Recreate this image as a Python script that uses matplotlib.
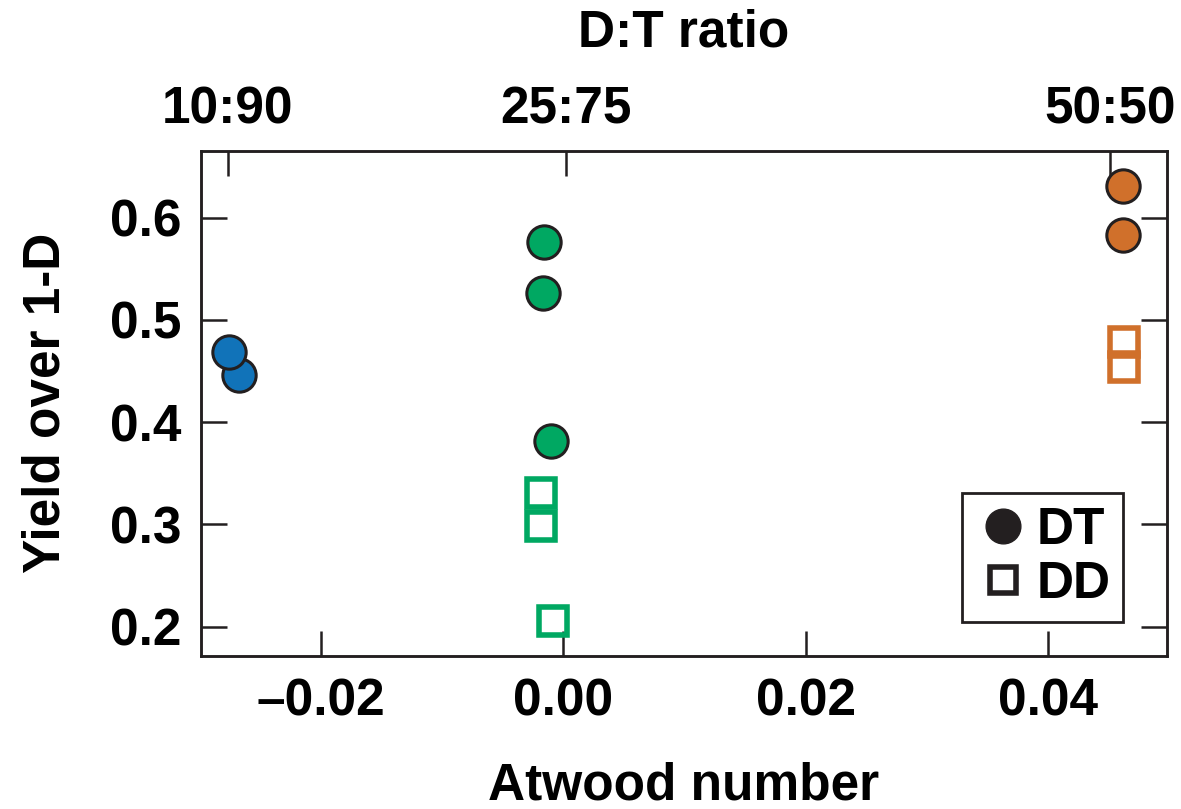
import matplotlib
matplotlib.use("Agg")
import matplotlib.pyplot as plt
from matplotlib.lines import Line2D

plt.rcParams['font.family'] = ['Liberation Sans', 'DejaVu Sans']
plt.rcParams['font.weight'] = 'bold'

# ---- data ----
groups = ["10:90", "25:75", "50:50"]
colors = ["#1173B9", "#00A862", "#D0702B"]
dt_x = [[-0.02672, -0.0276], [-0.00099, -0.0017, -0.00154], [0.04619, 0.04619]]
dt_y = [[0.446, 0.469], [0.382, 0.526, 0.576], [0.583, 0.631]]
dd_x = [[], [-0.00181, -0.00181, -0.00085], [0.04622, 0.04622]]
dd_y = [[], [0.331, 0.298, 0.206], [0.478, 0.454]]

x_ticks = [-0.02, 0.00, 0.02, 0.04]
x_tick_labels = ["\u20130.02", "0.00", "0.02", "0.04"]
y_ticks = [0.2, 0.3, 0.4, 0.5, 0.6]
y_tick_labels = ["0.2", "0.3", "0.4", "0.5", "0.6"]
top_ticks = [-0.02765, 0.00025, 0.04514]
top_tick_labels = ["10:90", "25:75", "50:50"]

ink = "#231F20"

fig = plt.figure(figsize=(11.81, 8.09), dpi=100)
ax = fig.add_axes([0.1699, 0.1895, 0.8182, 0.6242])

for c, xs, ys in zip(colors, dt_x, dt_y):
    ax.plot(xs, ys, linestyle='none', marker='o', markersize=24,
            markerfacecolor=c, markeredgecolor=ink, markeredgewidth=2.2, zorder=3)
for c, xs, ys in zip(colors, dd_x, dd_y):
    if xs:
        ax.plot(xs, ys, linestyle='none', marker='s', markersize=20.5,
                markerfacecolor='none', markeredgecolor=c, markeredgewidth=4.0, zorder=3)

ax.set_xlim(-0.0299, 0.0498)
ax.set_ylim(0.1716, 0.6655)

ax.set_xticks(x_ticks)
ax.set_xticklabels(x_tick_labels)
ax.set_yticks(y_ticks)
ax.set_yticklabels(y_tick_labels)

for s in ax.spines.values():
    s.set_linewidth(1.8)
    s.set_color(ink)

ax.tick_params(axis='x', direction='in', length=18, width=1.8, color=ink,
               labelsize=37, pad=16, top=False)
ax.tick_params(axis='y', direction='in', length=19, width=1.8, color=ink,
               labelsize=37, pad=14, right=True)

ax.set_xlabel("Atwood number", fontsize=37, fontweight='bold', labelpad=25)
ax.set_ylabel("Yield over 1-D", fontsize=37, fontweight='bold', labelpad=28)

ax2 = ax.twiny()
ax2.set_xlim(ax.get_xlim())
ax2.set_xticks(top_ticks)
ax2.set_xticklabels(top_tick_labels)
ax2.tick_params(axis='x', direction='in', length=18, width=1.8, color=ink,
                labelsize=37, pad=12)
ax2.set_xlabel("D:T ratio", fontsize=37, fontweight='bold', labelpad=28)
for s in ax2.spines.values():
    s.set_linewidth(1.8)
    s.set_color(ink)

handles = [
    Line2D([], [], linestyle='none', marker='o', markersize=25,
           markerfacecolor=ink, markeredgecolor=ink, label='DT'),
    Line2D([], [], linestyle='none', marker='s', markersize=19,
           markerfacecolor='none', markeredgecolor=ink, markeredgewidth=4.0, label='DD'),
]
leg = ax.legend(handles=handles, loc='lower right', bbox_to_anchor=(0.9548, 0.0673),
                borderaxespad=0, fancybox=False, frameon=True, framealpha=1,
                prop={'weight': 'bold', 'size': 37}, handletextpad=0.1,
                handlelength=1.1, labelspacing=0.1, borderpad=0.25)
leg.get_frame().set_edgecolor(ink)
leg.get_frame().set_linewidth(2.0)

fig.savefig("out.png", dpi=100)
